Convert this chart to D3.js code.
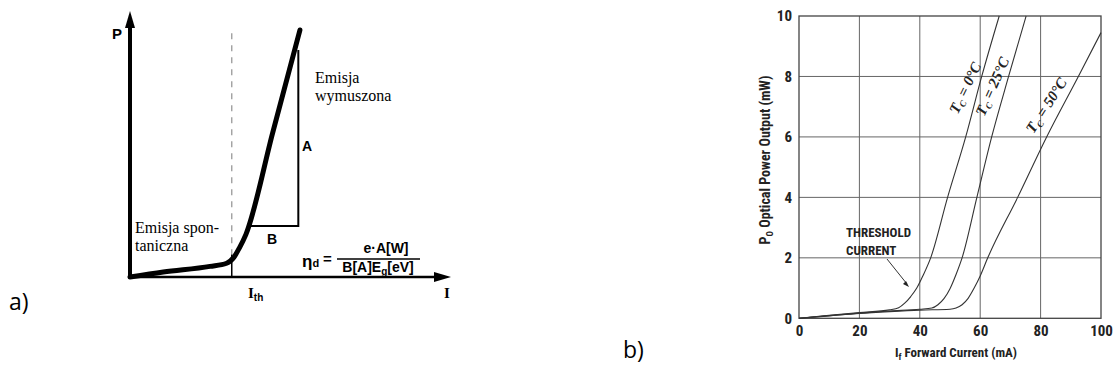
<!DOCTYPE html>
<html>
<head>
<meta charset="utf-8">
<script src="https://cdn.jsdelivr.net/npm/d3@7"></script>
<style>
  body { margin: 0; background: #fff; }
  .cond { font-family: "Liberation Sans Narrow", "Roboto Condensed", "Arial Narrow", "Liberation Sans", sans-serif; font-weight: bold; }
  .serif { font-family: "Liberation Serif", "DejaVu Serif", serif; }
</style>
</head>
<body>
<div id="canvas"></div>
<script>
// ---- a) sketch: P(I) curve of a laser diode, arbitrary units 0..10
var sketchI = [0, 1.04, 2.5, 3.02, 3.25, 3.42, 3.62, 4.46, 5.31];
var sketchP = [0, 0.19, 0.4, 0.52, 0.75, 1.1, 1.6, 5.45, 9.32];
var thresholdI = 3.18;
var legA = [1.92, 8.57];   // vertical leg of the slope triangle (P)
var legB = [3.69, 5.26];   // horizontal leg of the slope triangle (I)

// ---- b) datasheet: optical power vs forward current
var current0  = [0, 10, 20, 30, 33, 35, 37, 39, 41, 43.6, 49.2, 55.2, 60.5, 66.3];
var power0    = [0, 0.1, 0.19, 0.28, 0.35, 0.5, 0.72, 1.0, 1.4, 2, 4, 6, 8, 10];
var current25 = [0, 10, 20, 30, 40, 44, 46, 48, 50, 52, 54, 58.9, 63.8, 69.4, 75.2];
var power25   = [0, 0.09, 0.17, 0.24, 0.3, 0.34, 0.45, 0.65, 0.98, 1.45, 2, 4, 6, 8, 10];
var current50 = [0, 10, 20, 30, 40, 50, 52, 54, 56, 58, 60, 62.5, 72.4, 82, 92.5, 100];
var power50   = [0, 0.08, 0.16, 0.22, 0.27, 0.3, 0.34, 0.45, 0.66, 1.0, 1.4, 2, 4, 6, 8, 9.45];
var tempLabels = ['0°C', '25°C', '50°C'];
var currentTicks = [0, 20, 40, 60, 80, 100];
var powerTicks = [0, 2, 4, 6, 8, 10];

var svg = d3.select('#canvas').append('svg')
  .attr('width', 1113)
  .attr('height', 374);

svg.append('rect').attr('width', 1113).attr('height', 374).attr('fill', '#fff');

// panel captions
svg.append('text').attr('x', 9).attr('y', 310)
  .attr('font-family', '"Open Sans", "Noto Sans", sans-serif')
  .attr('font-size', 23).text('a)');
svg.append('text').attr('x', 623).attr('y', 358)
  .attr('font-family', '"Open Sans", "Noto Sans", sans-serif')
  .attr('font-size', 23).text('b)');

//=========================== a) ===========================
var xL = d3.scaleLinear().domain([0, 10]).range([130, 450]);
var yL = d3.scaleLinear().domain([0, 10]).range([277, 12]);
var gL = svg.append('g');

// dashed threshold line + the short solid drop to the axis
gL.append('line')
  .attr('x1', xL(thresholdI)).attr('x2', xL(thresholdI))
  .attr('y1', yL(9.2)).attr('y2', yL(0.85))
  .attr('stroke', '#999').attr('stroke-width', 1.3)
  .attr('stroke-dasharray', '6,6');
gL.append('line')
  .attr('x1', xL(thresholdI)).attr('x2', xL(thresholdI))
  .attr('y1', yL(0.85)).attr('y2', yL(0))
  .attr('stroke', '#000').attr('stroke-width', 1.5);

// slope triangle
gL.append('path')
  .attr('d', 'M' + xL(legB[0]) + ',' + yL(legA[0]) +
             'L' + xL(legB[1]) + ',' + yL(legA[0]) +
             'L' + xL(legB[1]) + ',' + yL(legA[1]))
  .attr('fill', 'none').attr('stroke', '#000').attr('stroke-width', 2);

// axes with arrows
gL.append('line')
  .attr('x1', xL(0)).attr('x2', xL(0))
  .attr('y1', yL(0) + 1).attr('y2', yL(9.4))
  .attr('stroke', '#000').attr('stroke-width', 4);
gL.append('line')
  .attr('x1', xL(0) - 2).attr('x2', xL(9.6))
  .attr('y1', yL(0)).attr('y2', yL(0))
  .attr('stroke', '#000').attr('stroke-width', 2.5);
gL.append('path')
  .attr('d', 'M' + xL(0) + ',' + (yL(10) - 1) + 'l-5,17l10,0z')
  .attr('fill', '#000');
gL.append('path')
  .attr('d', 'M' + (xL(10) + 1) + ',' + yL(0) + 'l-17,-5l0,10z')
  .attr('fill', '#000');

// the curve itself
var sketchPts = sketchI.map(function (d, i) { return [d, sketchP[i]]; });
gL.append('path')
  .attr('d', d3.line()
    .x(function (d) { return xL(d[0]); })
    .y(function (d) { return yL(d[1]); })
    .curve(d3.curveMonotoneX)(sketchPts))
  .attr('fill', 'none').attr('stroke', '#000')
  .attr('stroke-width', 5).attr('stroke-linecap', 'round')
  .attr('stroke-linejoin', 'round');

// labels
gL.append('text').attr('x', 112).attr('y', 39)
  .attr('font-family', '"Liberation Sans", sans-serif').attr('font-weight', 'bold')
  .attr('font-size', 15).text('P');
gL.append('text').attr('x', 302).attr('y', 151)
  .attr('font-family', '"Liberation Sans", sans-serif').attr('font-weight', 'bold')
  .attr('font-size', 14).text('A');
gL.append('text').attr('x', 267).attr('y', 244)
  .attr('font-family', '"Liberation Sans", sans-serif').attr('font-weight', 'bold')
  .attr('font-size', 14).text('B');

var serifLines = [
  { x: 315, y: 83, t: 'Emisja' },
  { x: 315, y: 101, t: 'wymuszona' },
  { x: 135, y: 233, t: 'Emisja spon-' },
  { x: 135, y: 251, t: 'taniczna' }
];
gL.selectAll('text.em').data(serifLines)
  .enter().append('text')
  .attr('class', 'em serif')
  .attr('x', function (d) { return d.x; })
  .attr('y', function (d) { return d.y; })
  .attr('font-size', 16)
  .text(function (d) { return d.t; });

var ith = gL.append('text').attr('class', 'serif').attr('x', 248).attr('y', 298)
  .attr('font-size', 15).attr('font-weight', 'bold');
ith.append('tspan').text('I');
ith.append('tspan').attr('font-size', 10).attr('dy', 3).attr('font-family', '"Liberation Sans", sans-serif').text('th');
gL.append('text').attr('class', 'serif').attr('x', 444).attr('y', 298)
  .attr('font-size', 15).attr('font-weight', 'bold').text('I');

// efficiency formula
var fx = 'font-family';
var fam = '"Liberation Sans", sans-serif';
var eta = gL.append('text').attr('x', 302).attr('y', 267)
  .attr(fx, fam).attr('font-weight', 'bold').attr('font-size', 17);
eta.append('tspan').text('η');
eta.append('tspan').attr('font-size', 11).attr('dy', 0).text('d');
gL.append('text').attr('x', 323).attr('y', 264)
  .attr(fx, fam).attr('font-weight', 'bold').attr('font-size', 15).text('=');
gL.append('text').attr('x', 386).attr('y', 253).attr('text-anchor', 'middle')
  .attr(fx, fam).attr('font-weight', 'bold').attr('font-size', 14).text('e·A[W]');
gL.append('line').attr('x1', 337).attr('x2', 420).attr('y1', 259).attr('y2', 259)
  .attr('stroke', '#000').attr('stroke-width', 1.5);
var den = gL.append('text').attr('x', 378).attr('y', 272).attr('text-anchor', 'middle')
  .attr(fx, fam).attr('font-weight', 'bold').attr('font-size', 14);
den.append('tspan').text('B[A]E');
den.append('tspan').attr('font-size', 10).attr('dy', 3).text('g');
den.append('tspan').attr('dy', -3).text('[eV]');

//=========================== b) ===========================
var xR = d3.scaleLinear().domain([0, 100]).range([799, 1101]);
var yR = d3.scaleLinear().domain([0, 10]).range([318.3, 16]);
var gR = svg.append('g');

// grid
gR.selectAll('line.vg').data(currentTicks.slice(1, -1))
  .enter().append('line').attr('class', 'vg')
  .attr('x1', function (d) { return xR(d); })
  .attr('x2', function (d) { return xR(d); })
  .attr('y1', yR(0)).attr('y2', yR(10))
  .attr('stroke', '#666').attr('stroke-width', 1);
gR.selectAll('line.hg').data(powerTicks.slice(1, -1))
  .enter().append('line').attr('class', 'hg')
  .attr('x1', xR(0)).attr('x2', xR(100))
  .attr('y1', function (d) { return yR(d); })
  .attr('y2', function (d) { return yR(d); })
  .attr('stroke', '#666').attr('stroke-width', 1);
gR.append('rect')
  .attr('x', xR(0)).attr('y', yR(10))
  .attr('width', xR(100) - xR(0)).attr('height', yR(0) - yR(10))
  .attr('fill', 'none').attr('stroke', '#444').attr('stroke-width', 1.3);

// tick labels through the axes
var axL = gR.append('g').attr('class', 'cond')
  .attr('transform', 'translate(' + xR(0) + ',0)')
  .call(d3.axisLeft(yR).tickValues(powerTicks).tickSize(0).tickPadding(7));
var axB = gR.append('g').attr('class', 'cond')
  .attr('transform', 'translate(0,' + yR(0) + ')')
  .call(d3.axisBottom(xR).tickValues(currentTicks).tickSize(0).tickPadding(7));
[axL, axB].forEach(function (ax) {
  ax.select('.domain').remove();
  ax.selectAll('text').attr('font-size', 15).attr('fill', '#222')
    .attr('font-family', null).attr('font-weight', 'bold');
  ax.attr('font-family', null);
});

// curves
var series = [
  { i: current0, p: power0 },
  { i: current25, p: power25 },
  { i: current50, p: power50 }
];
var line = d3.line()
  .x(function (d) { return xR(d[0]); })
  .y(function (d) { return yR(d[1]); })
  .curve(d3.curveMonotoneX);
gR.selectAll('path.curve').data(series)
  .enter().append('path').attr('class', 'curve')
  .attr('d', function (d) { return line(d.i.map(function (v, k) { return [v, d.p[k]]; })); })
  .attr('fill', 'none').attr('stroke', '#333').attr('stroke-width', 1.1);

// temperature labels along the curves
var tPos = [
  { x: 56.5, y: 7.55, r: -64 },
  { x: 65.5, y: 7.6, r: -66 },
  { x: 83.3, y: 6.95, r: -57 }
];
tempLabels.forEach(function (t, k) {
  var tx = gR.append('text')
    .attr('class', 'serif')
    .attr('transform', 'translate(' + xR(tPos[k].x) + ',' + yR(tPos[k].y) + ') rotate(' + tPos[k].r + ')')
    .attr('text-anchor', 'middle')
    .attr('font-size', 15).attr('font-style', 'italic').attr('font-weight', 'bold')
    .attr('fill', '#222');
  tx.append('tspan').text('T');
  tx.append('tspan').attr('font-size', 9).attr('dy', 3).text('C');
  tx.append('tspan').attr('dy', -3).text(' = ' + t);
});

// threshold note + arrow
gR.append('text').attr('class', 'cond').attr('x', 846).attr('y', 237)
  .attr('font-size', 13).attr('fill', '#222').text('THRESHOLD');
gR.append('text').attr('class', 'cond').attr('x', 846).attr('y', 255)
  .attr('font-size', 13).attr('fill', '#222').text('CURRENT');
gR.append('line').attr('x1', 887).attr('y1', 259).attr('x2', 907).attr('y2', 284)
  .attr('stroke', '#333').attr('stroke-width', 1);
gR.append('path').attr('d', 'M909,287 l-6,-3 l3,-3 z').attr('fill', '#222');

// axis titles
var yt = gR.append('text').attr('class', 'cond')
  .attr('transform', 'translate(770,160) rotate(-90)')
  .attr('text-anchor', 'middle').attr('font-size', 14).attr('fill', '#222');
yt.append('tspan').text('P');
yt.append('tspan').attr('font-size', 9).attr('dy', 3).text('O');
yt.append('tspan').attr('dy', -3).text(' Optical Power  Output (mW)');

var xt = gR.append('text').attr('class', 'cond')
  .attr('x', 956).attr('y', 357)
  .attr('text-anchor', 'middle').attr('font-size', 13).attr('fill', '#222');
xt.append('tspan').text('I');
xt.append('tspan').attr('font-size', 9).attr('dy', 3).text('f');
xt.append('tspan').attr('dy', -3).text(' Forward Current  (mA)');
</script>
</body>
</html>
